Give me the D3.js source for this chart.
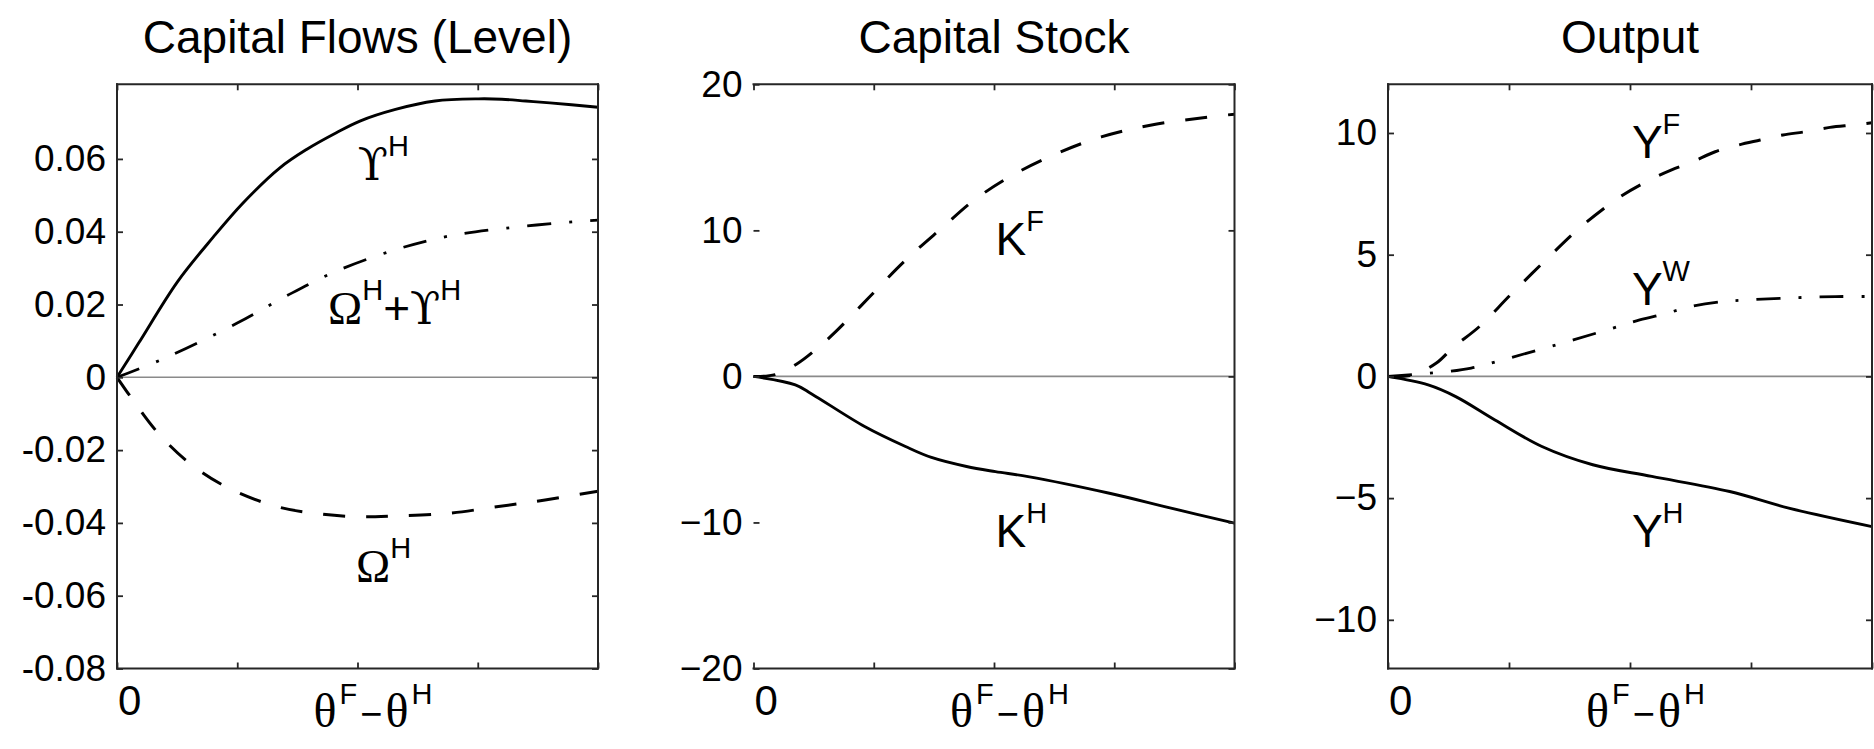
<!DOCTYPE html>
<html>
<head>
<meta charset="utf-8">
<script src="https://cdn.jsdelivr.net/npm/d3@7"></script>
<style>
  body { margin: 0; background: #fff; }
  svg { display: block; }
</style>
</head>
<body>
<svg id="chart" width="1874" height="749"></svg>
<script>
// ---------- data (x is the normalised θF−θH axis, 0 … 1) ----------
const titles = ["Capital Flows (Level)", "Capital Stock", "Output"];

const xTickValues = [0, 0.25, 0.5, 0.75, 1];

// Capital flows
const upsilonH = [[0,0],[0.045,0.0094],[0.126,0.0263],[0.2,0.0385],[0.262,0.0479],[0.338,0.0575],
  [0.394,0.0626],[0.456,0.0672],[0.505,0.0704],[0.579,0.0736],[0.661,0.0759],[0.751,0.0765],
  [0.8,0.0764],[0.85,0.0759],[0.9,0.0754],[1,0.0742]];
const omegaPlusUpsilonH = [[0,0],[0.1,0.0053],[0.25,0.0149],[0.35,0.0222],[0.455,0.0291],
  [0.58,0.0351],[0.686,0.0387],[0.81,0.041],[0.965,0.0429],[1,0.0432]];
const omegaH = [[0,0],[0.028,-0.0053],[0.086,-0.0154],[0.151,-0.0236],[0.233,-0.0305],
  [0.332,-0.0355],[0.413,-0.0374],[0.497,-0.0383],[0.579,-0.0381],[0.686,-0.0374],
  [0.793,-0.0355],[0.89,-0.0337],[1,-0.0313]];
const flowsTicks = [-0.08,-0.06,-0.04,-0.02,0,0.02,0.04,0.06];
const flowsTickLabels = ["-0.08","-0.06","-0.04","-0.02","0","0.02","0.04","0.06"];

// Capital stock
const capitalF = [[0,0],[0.045,0.12],[0.09,0.85],[0.13,1.85],[0.172,3.1],[0.24,5.4],[0.316,7.95],
  [0.393,10.2],[0.46,12.1],[0.537,13.75],[0.63,15.25],[0.723,16.4],[0.825,17.2],
  [0.952,17.78],[1,17.95]];
const capitalH = [[0,0],[0.087,-0.58],[0.121,-1.2],[0.231,-3.43],[0.316,-4.8],[0.37,-5.55],
  [0.443,-6.17],[0.503,-6.52],[0.571,-6.86],[0.74,-8.0],[0.868,-9.02],[1,-10.05]];
const stockTicks = [-20,-10,0,10,20];
const stockTickLabels = ["\u221220","\u221210","0","10","20"];

// Output
const outputF = [[0,0],[0.05,0.05],[0.1,0.55],[0.135,1.2],[0.189,2.05],[0.253,3.35],[0.326,4.78],
  [0.399,6.15],[0.48,7.38],[0.541,8.07],[0.586,8.48],[0.63,8.82],[0.676,9.23],[0.723,9.5],
  [0.769,9.71],[0.816,9.92],[0.862,10.05],[0.913,10.23],[0.961,10.33],[1,10.42]];
const outputW = [[0,0],[0.124,0.2],[0.172,0.34],[0.237,0.68],[0.383,1.5],[0.464,1.98],[0.52,2.32],
  [0.577,2.6],[0.626,2.87],[0.69,3.07],[0.739,3.14],[0.812,3.21],[0.925,3.28],[1,3.28]];
const outputH = [[0,0],[0.083,-0.35],[0.14,-0.83],[0.221,-1.79],[0.318,-2.88],[0.423,-3.63],
  [0.545,-4.11],[0.706,-4.73],[0.828,-5.41],[1,-6.17]];
const outputTicks = [-10,-5,0,5,10];
const outputTickLabels = ["\u221210","\u22125","0","5","10"];

// ---------- drawing ----------
const SANS = "'Liberation Sans', Arial, Helvetica, sans-serif";
const SERIF = "'Liberation Serif', 'Times New Roman', serif";
const HOOK = "'DejaVu Serif', 'Liberation Serif', serif";
const svg = d3.select("#chart");
const TOP = 84.3, BOTTOM = 668.5;

const STYLE = {
  solid:   { dash: null,          width: 2.9 },
  dashed:  { dash: "22,21",       width: 3 },
  dashdot: { dash: "24,18,3,18",  width: 2.8 }
};

const UPS = {t:"\u03D2", g:true, hook:true};
const panels = [
  { title: titles[0], left: 117, right: 598, domain: [-0.08, 0.0805],
    ticks: flowsTicks, tickLabels: flowsTickLabels, leftSpine: true,
    series: [ { data: upsilonH, style: "solid" },
              { data: omegaPlusUpsilonH, style: "dashdot" },
              { data: omegaH, style: "dashed" } ],
    labels: [ { at: [0.5006, 0.0543],  parts: [UPS, {t:"H", sup:true}] },
              { at: [0.4387, 0.01472], parts: [{t:"\u03A9", g:true}, {t:"H", sup:true}, {t:"+"}, UPS, {t:"H", sup:true}] },
              { at: [0.497, -0.0562],  parts: [{t:"\u03A9", g:true}, {t:"H", sup:true}] } ] },
  { title: titles[1], left: 753.5, right: 1234.5, domain: [-20, 20],
    ticks: stockTicks, tickLabels: stockTickLabels, leftSpine: false,
    series: [ { data: capitalF, style: "dashed" },
              { data: capitalH, style: "solid" } ],
    labels: [ { at: [0.503, 8.32],   parts: [{t:"K"}, {t:"F", sup:true}] },
              { at: [0.503, -11.65], parts: [{t:"K"}, {t:"H", sup:true}] } ] },
  { title: titles[2], left: 1388, right: 1872, domain: [-12, 12],
    ticks: outputTicks, tickLabels: outputTickLabels, leftSpine: true,
    series: [ { data: outputF, style: "dashed" },
              { data: outputW, style: "dashdot" },
              { data: outputH, style: "solid" } ],
    labels: [ { at: [0.504, 8.96],  parts: [{t:"Y"}, {t:"F", sup:true}] },
              { at: [0.504, 2.94],  parts: [{t:"Y"}, {t:"W", sup:true}] },
              { at: [0.504, -6.99], parts: [{t:"Y"}, {t:"H", sup:true}] } ] }
];

// text with superscripts built from tspans
function richText(parent, parts, o) {
  const t = parent.append("text").attr("x", o.x).attr("y", o.y).attr("fill", "#000");
  let up = false;
  parts.forEach((p, i) => {
    const size = p.sup ? o.supSize : (p.g ? (p.hook ? o.hookSize : o.greekSize) : (p.t === "\u2212" ? o.minusSize : o.size));
    const s = t.append("tspan").text(p.t)
      .style("font-family", p.hook ? HOOK : (p.g ? SERIF : SANS))
      .style("font-size", size + "px");
    if (i > 0 && o.gap) s.attr("dx", o.gap);
    if (p.sup && !up) { s.attr("dy", -o.raise); up = true; }
    else if (!p.sup && up) { s.attr("dy", o.raise); up = false; }
  });
  return t;
}

panels.forEach(P => {
  const x = d3.scaleLinear().domain([0, 1]).range([P.left, P.right]);
  const y = d3.scaleLinear().domain(P.domain).range([BOTTOM, TOP]);
  const g = svg.append("g");

  // title
  g.append("text").attr("x", (P.left + P.right) / 2).attr("y", TOP - 31)
    .attr("text-anchor", "middle").style("font-family", SANS).style("font-size", "46px")
    .text(P.title);

  // zero reference line
  g.append("line").attr("x1", x(0)).attr("x2", x(1)).attr("y1", y(0)).attr("y2", y(0))
    .attr("stroke", "#8a8a8a").attr("stroke-width", 1.6);

  // series
  const line = d3.line().x(d => x(d[0])).y(d => y(d[1])).curve(d3.curveCatmullRom.alpha(0.5));
  P.series.forEach(s => {
    const st = STYLE[s.style];
    g.append("path").datum(s.data).attr("d", line)
      .attr("fill", "none").attr("stroke", "#000").attr("stroke-width", st.width)
      .attr("stroke-linejoin", "round").attr("stroke-dasharray", st.dash);
  });

  // axes with inward ticks
  const axisStyle = sel => {
    sel.select(".domain").remove();
    sel.selectAll(".tick line").attr("stroke", "#262626").attr("stroke-width", 1.8);
  };
  const left = g.append("g").attr("transform", `translate(${P.left},0)`)
    .call(d3.axisLeft(y).tickValues(P.ticks).tickSize(-6).tickPadding(11)
      .tickFormat((d, i) => P.tickLabels[i]))
    .call(axisStyle);
  left.selectAll(".tick text").style("font-family", SANS).style("font-size", "37px").attr("fill", "#000");
  g.append("g").attr("transform", `translate(${P.right},0)`)
    .call(d3.axisRight(y).tickValues(P.ticks).tickSize(-6).tickFormat(""))
    .call(axisStyle);
  g.append("g").attr("transform", `translate(0,${TOP})`)
    .call(d3.axisTop(x).tickValues(xTickValues).tickSize(-6).tickFormat(""))
    .call(axisStyle);
  g.append("g").attr("transform", `translate(0,${BOTTOM})`)
    .call(d3.axisBottom(x).tickValues(xTickValues).tickSize(-6).tickFormat(""))
    .call(axisStyle);

  // box
  const box = [[P.left, TOP, P.right, TOP], [P.right, TOP, P.right, BOTTOM], [P.left, BOTTOM, P.right, BOTTOM]];
  if (P.leftSpine) box.push([P.left, TOP, P.left, BOTTOM]);
  box.forEach(b => g.append("line").attr("x1", b[0]).attr("y1", b[1]).attr("x2", b[2]).attr("y2", b[3])
    .attr("stroke", "#262626").attr("stroke-width", 2).attr("stroke-linecap", "square"));

  // x tick labels
  g.append("text").attr("x", x(0) + 1).attr("y", BOTTOM + 46.5)
    .style("font-family", SANS).style("font-size", "42px").text("0");
  richText(g, [{t:"\u03B8", g:true}, {t:"F", sup:true}, {t:"\u2212"}, {t:"\u03B8", g:true}, {t:"H", sup:true}],
    { x: x(0.5) - 44, y: BOTTOM + 58, size: 38, minusSize: 38, greekSize: 48, hookSize: 48, supSize: 29, raise: 23, gap: 3 });

  // curve labels
  P.labels.forEach(L => {
    richText(g, L.parts, { x: x(L.at[0]), y: y(L.at[1]), size: 46, minusSize: 46, greekSize: 46, hookSize: 44, supSize: 29, raise: 24 });
  });
});
</script>
</body>
</html>
